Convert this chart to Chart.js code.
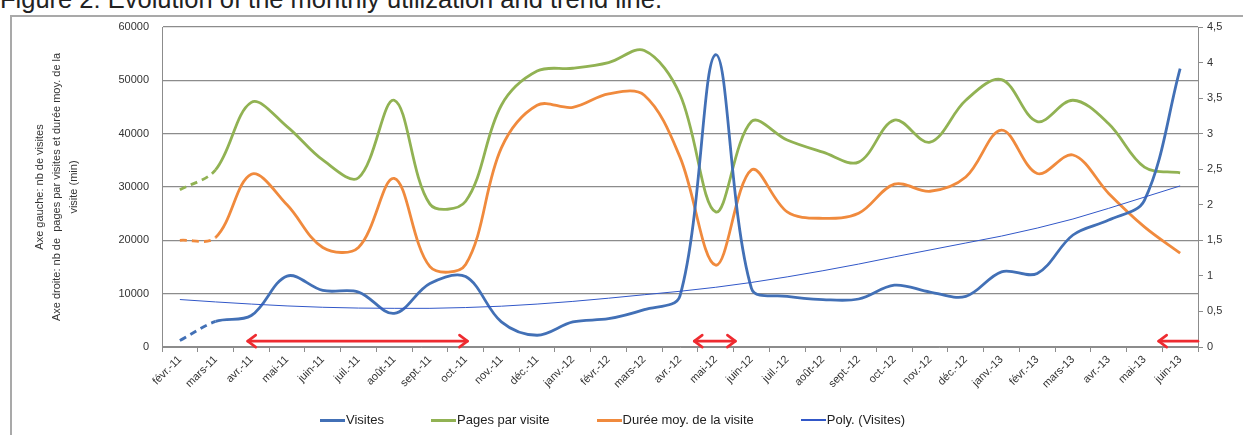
<!DOCTYPE html>
<html>
<head>
<meta charset="utf-8">
<script src="https://cdn.jsdelivr.net/npm/chart.js@4.4.1/dist/chart.umd.min.js"></script>
<style>
html,body{margin:0;padding:0;background:#fff;width:1243px;height:435px;overflow:hidden;}
#title{position:absolute;left:0;top:-13px;font-family:'Liberation Sans',Arial,sans-serif;font-size:25.5px;line-height:25.5px;color:#222;white-space:nowrap;}
#frame{position:absolute;left:10px;top:15px;width:1300px;height:500px;border:2px solid #a9a9a9;box-sizing:border-box;}
#c{position:absolute;left:0;top:0;}
#legend{position:absolute;left:0;top:412px;width:1225px;display:flex;justify-content:center;gap:47px;font-family:'Liberation Sans',Arial,sans-serif;font-size:13px;line-height:16px;color:#222;}
#legend .it{display:flex;align-items:center;white-space:nowrap;}
#legend .sw{display:inline-block;width:25px;margin-right:1px;}
</style>
</head>
<body>
<div id="frame"></div>
<div id="title">Figure 2: Evolution of the monthly utilization and trend line.</div>
<canvas id="c" width="1243" height="435"></canvas>
<div id="legend"></div>
<script>
const categories = ['févr.-11','mars-11','avr.-11','mai-11','juin-11','juil.-11','août-11','sept.-11','oct.-11','nov.-11','déc.-11','janv.-12','févr.-12','mars-12','avr.-12','mai-12','juin-12','juil.-12','août-12','sept.-12','oct.-12','nov.-12','déc.-12','janv.-13','févr.-13','mars-13','avr.-13','mai-13','juin-13'];
const visites = [1200, 4800, 5900, 13300, 10600, 10300, 6300, 11900, 13200, 4700, 2200, 4700, 5300, 7000, 9600, 54800, 11000, 9500, 8900, 9000, 11600, 10300, 9500, 14100, 13800, 21000, 23800, 27500, 52200];
const pagesParVisite = [2.21, 2.49, 3.44, 3.10, 2.63, 2.38, 3.47, 2.01, 2.05, 3.40, 3.88, 3.92, 4.0, 4.17, 3.55, 1.90, 3.17, 2.91, 2.74, 2.60, 3.19, 2.88, 3.47, 3.76, 3.17, 3.47, 3.14, 2.53, 2.45];
const dureeMoy = [1.5, 1.54, 2.43, 2.0, 1.40, 1.40, 2.37, 1.13, 1.16, 2.8, 3.40, 3.37, 3.56, 3.54, 2.67, 1.15, 2.49, 1.90, 1.81, 1.88, 2.29, 2.19, 2.39, 3.05, 2.44, 2.70, 2.16, 1.69, 1.32];
const polyVisites = [8900, 8450, 8050, 7700, 7450, 7300, 7250, 7250, 7400, 7650, 8050, 8550, 9150, 9800, 10450, 11200, 12100, 13150, 14300, 15550, 16900, 18200, 19500, 20800, 22300, 24000, 26000, 28100, 30200];
const seriesNames = ['Visites','Pages par visite','Durée moy. de la visite','Poly. (Visites)'];
const leftTicks = [0, 10000, 20000, 30000, 40000, 50000, 60000];
const leftTickLabels = ['0','10000','20000','30000','40000','50000','60000'];
const rightTicks = [0, 0.5, 1, 1.5, 2, 2.5, 3, 3.5, 4, 4.5];
const rightTickLabels = ['0','0,5','1','1,5','2','2,5','3','3,5','4','4,5'];
const axisTitle = ['Axe gauche: nb de visites', 'Axe droite: nb de  pages par visites et durée moy. de la', 'visite (min)'];
const arrowFrom = [1.9, 14.4, 27.4];
const arrowTo = [8.05, 15.55, 28.5];
const arrowHeads = ['both', 'both', 'start'];
const arrowLevel = 1100;

const FONT = "'Liberation Sans', Arial, sans-serif";
const TXT = '#333';
const GRID = '#8c8c8c';
const C_BLUE = '#4270b6';
const C_GREEN = '#91b253';
const C_ORANGE = '#f08a3d';
const C_POLY = '#3157c8';
const C_RED = '#ee2b30';

const dashFirst = { borderDash: c => c.p0DataIndex === 0 ? [7, 5] : [] };

const arrowPlugin = {
  id: 'arrows',
  afterDatasetsDraw(chart) {
    const { ctx, scales: { x, y } } = chart;
    const yy = y.getPixelForValue(arrowLevel);
    ctx.save();
    ctx.strokeStyle = C_RED; ctx.lineWidth = 2.6; ctx.lineCap = 'round'; ctx.lineJoin = 'round';
    const head = (tx, dir) => {
      ctx.beginPath(); ctx.moveTo(tx + dir * 8, yy - 6); ctx.lineTo(tx, yy); ctx.lineTo(tx + dir * 8, yy + 6); ctx.stroke();
    };
    arrowFrom.forEach((f, i) => {
      const x0 = x.getPixelForValue(f), x1 = x.getPixelForValue(arrowTo[i]);
      ctx.beginPath(); ctx.moveTo(x0, yy); ctx.lineTo(x1, yy); ctx.stroke();
      if (arrowHeads[i] === 'both' || arrowHeads[i] === 'start') head(x0, 1);
      if (arrowHeads[i] === 'both' || arrowHeads[i] === 'end') head(x1, -1);
    });
    ctx.restore();
  }
};

const datasets = [
  { label: seriesNames[0], data: visites, yAxisID: 'y', borderColor: C_BLUE, backgroundColor: C_BLUE, borderWidth: 2.8, tension: 0.35, pointRadius: 0, segment: dashFirst, order: 1 },
  { label: seriesNames[1], data: pagesParVisite, yAxisID: 'y1', borderColor: C_GREEN, backgroundColor: C_GREEN, borderWidth: 2.8, tension: 0.35, pointRadius: 0, segment: dashFirst, order: 3 },
  { label: seriesNames[2], data: dureeMoy, yAxisID: 'y1', borderColor: C_ORANGE, backgroundColor: C_ORANGE, borderWidth: 2.8, tension: 0.35, pointRadius: 0, segment: dashFirst, order: 2 },
  { label: seriesNames[3], data: polyVisites, yAxisID: 'y', borderColor: C_POLY, backgroundColor: C_POLY, borderWidth: 1, tension: 0, pointRadius: 0, order: 0 }
];

new Chart(document.getElementById('c'), {
  type: 'line',
  data: { labels: categories, datasets },
  options: {
    responsive: false, animation: false, devicePixelRatio: 1,
    layout: { padding: { top: 27, bottom: 33, left: 0, right: 0 } },
    plugins: { legend: { display: false }, tooltip: { enabled: false } },
    scales: {
      x: {
        type: 'category', offset: true,
        grid: { offset: true, drawOnChartArea: false, drawTicks: true, tickLength: 5, color: GRID },
        border: { color: GRID, width: 1 },
        ticks: { autoSkip: false, minRotation: 45, maxRotation: 45, font: { family: FONT, size: 11 }, color: TXT, padding: 1 },
        afterFit(s) { s.height = 55; }
      },
      y: {
        position: 'left', min: 0, max: 60000,
        afterBuildTicks(s) { s.ticks = leftTicks.map(v => ({ value: v })); },
        ticks: { font: { family: FONT, size: 11 }, color: TXT, padding: 13, callback: (v, i) => leftTickLabels[i] },
        grid: { color: GRID, drawTicks: false, lineWidth: 1.2 },
        border: { color: GRID, width: 1 },
        title: { display: true, text: axisTitle, font: { family: FONT, size: 11, lineHeight: 1.55 }, color: TXT, padding: { top: 31.5, bottom: 0 } },
        afterFit(s) { s.width = 162; }
      },
      y1: {
        position: 'right', min: 0, max: 4.5,
        afterBuildTicks(s) { s.ticks = rightTicks.map(v => ({ value: v })); },
        ticks: { font: { family: FONT, size: 11 }, color: TXT, padding: 4, callback: (v, i) => rightTickLabels[i] },
        grid: { drawOnChartArea: false, drawTicks: true, tickLength: 5, color: GRID },
        border: { color: GRID, width: 1 },
        afterFit(s) { s.width = 45; }
      }
    }
  },
  plugins: [arrowPlugin]
});

const lg = document.getElementById('legend');
datasets.forEach((d, i) => {
  const it = document.createElement('div'); it.className = 'it';
  const sw = document.createElement('span'); sw.className = 'sw';
  sw.style.height = (i === 3 ? 2 : 3) + 'px'; sw.style.background = d.borderColor;
  const tx = document.createElement('span'); tx.textContent = d.label;
  it.appendChild(sw); it.appendChild(tx); lg.appendChild(it);
});
</script>
</body>
</html>
